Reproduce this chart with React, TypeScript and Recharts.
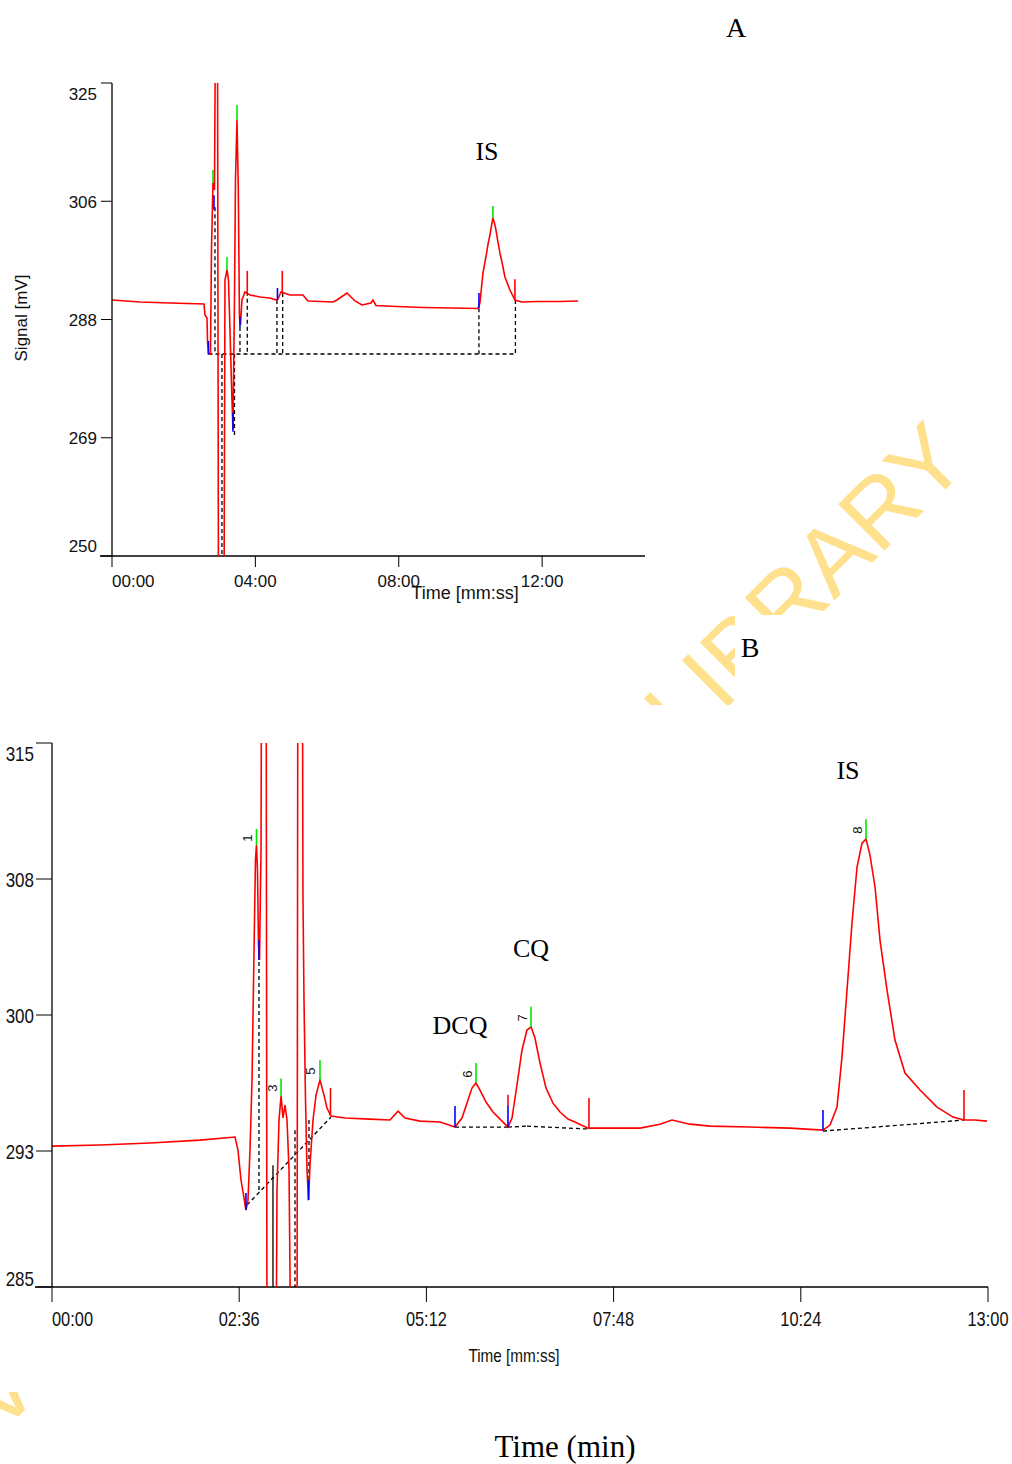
import React from 'react';
import { LineChart, Line, XAxis, YAxis, ReferenceLine, ReferenceDot } from 'recharts';

// ---------------- Panel A data ----------------
const timeA = [0, 0.781, 1.618, 2.566, 2.594, 2.65, 2.664, 2.692, 2.748, 2.775, 2.817, 2.859, 2.887, 2.943, 2.971, 3.124, 3.152, 3.208, 3.25, 3.291, 3.347, 3.375, 3.417, 3.445, 3.487, 3.523, 3.556, 3.584, 3.626, 3.71, 3.849, 4.128, 4.407, 4.589, 4.63, 4.714, 4.798, 4.965, 5.328, 5.467, 6.165, 6.276, 6.555, 6.778, 6.974, 7.225, 7.28, 7.364, 7.95, 8.675, 10.209, 10.265, 10.349, 10.452, 10.488, 10.544, 10.586, 10.628, 10.684, 10.711, 10.767, 10.823, 10.879, 10.962, 11.102, 11.241, 11.437, 11.855, 12.497, 13.0];
const signalA = [290.59, 290.28, 290.12, 289.96, 288.22, 287.74, 284.09, 282.03, 282.03, 298.52, 309.14, 308.03, 335, 335, 240, 240, 293.76, 295.35, 293.76, 285.84, 274.74, 269.98, 290.59, 309.62, 319.13, 308.51, 287.9, 286.63, 290.59, 291.86, 291.39, 291.07, 290.91, 290.59, 290.75, 291.86, 291.7, 291.39, 291.39, 290.44, 290.28, 290.59, 291.7, 290.44, 289.8, 290.12, 290.59, 289.72, 289.56, 289.4, 289.25, 290.12, 294.87, 298.05, 299.36, 300.9, 302.33, 303.6, 302.49, 301.7, 299.79, 298.05, 296.62, 294.24, 292.18, 290.59, 290.28, 290.36, 290.36, 290.44];
const ticksXA = [0, 4, 8, 12];
const ticksYA = [250, 268.75, 287.5, 306.25, 325];
// [time, from, to]
const apexA = [[2.817, 309.14, 311.2], [3.208, 295.35, 297.4], [3.487, 319.13, 321.5], [10.628, 303.6, 305.5]];
const startA = [[2.692, 282.0, 284.1], [2.845, 304.9, 307.2], [3.375, 269.7, 272.7], [3.57, 286.3, 287.9], [4.616, 290.6, 292.5], [10.237, 289.3, 291.7]];
const endA = [[3.774, 291.9, 295.2], [4.75, 291.7, 295.2], [11.241, 290.6, 293.9]];
// [t1, v1, t2, v2]
const baselineA = [
  [2.873, 305.3, 2.873, 282.03],
  [2.692, 282.03, 11.27, 282.03],
  [3.068, 282.03, 3.068, 250],
  [3.417, 282.03, 3.417, 269.0],
  [3.57, 286.3, 3.57, 282.03],
  [3.774, 291.9, 3.774, 282.03],
  [4.602, 290.6, 4.602, 282.03],
  [4.762, 291.7, 4.762, 282.03],
  [10.237, 289.3, 10.237, 282.03],
  [11.255, 290.6, 11.255, 282.03],
];

// ---------------- Panel B data ----------------
const timeB = [0, 0.667, 1.361, 2.056, 2.542, 2.583, 2.625, 2.667, 2.694, 2.722, 2.75, 2.778, 2.806, 2.826, 2.84, 2.854, 2.868, 2.882, 2.903, 2.917, 2.972, 2.986, 3.111, 3.125, 3.153, 3.181, 3.208, 3.236, 3.264, 3.292, 3.319, 3.403, 3.417, 3.472, 3.486, 3.5, 3.521, 3.542, 3.563, 3.583, 3.625, 3.667, 3.722, 3.778, 3.819, 3.875, 4.069, 4.417, 4.694, 4.806, 4.903, 5.111, 5.389, 5.597, 5.694, 5.778, 5.833, 5.889, 5.944, 6.028, 6.125, 6.222, 6.333, 6.389, 6.458, 6.528, 6.597, 6.653, 6.708, 6.778, 6.861, 6.958, 7.056, 7.167, 7.292, 7.444, 7.611, 8.167, 8.444, 8.611, 8.861, 9.139, 9.694, 10.25, 10.708, 10.806, 10.903, 10.972, 11.042, 11.111, 11.181, 11.25, 11.306, 11.361, 11.431, 11.5, 11.597, 11.708, 11.847, 12.056, 12.292, 12.514, 12.667, 12.819, 12.986];
const signalB = [292.77, 292.83, 292.94, 293.1, 293.27, 292.55, 290.9, 289.9, 289.24, 289.79, 292.55, 296.41, 303.58, 308.55, 309.37, 308.0, 303.86, 303.03, 309.1, 330, 330, 280, 280, 290.35, 294.21, 295.53, 294.32, 295.03, 294.21, 291.45, 280, 280, 330, 330, 306.34, 300.82, 295.31, 291.45, 289.79, 291.72, 294.21, 295.58, 296.41, 295.58, 294.87, 294.43, 294.32, 294.26, 294.21, 294.7, 294.32, 294.15, 294.1, 293.82, 294.32, 295.31, 295.97, 296.25, 295.86, 295.2, 294.65, 294.26, 293.82, 294.32, 296.14, 298.07, 299.17, 299.34, 298.73, 297.35, 295.97, 295.14, 294.65, 294.26, 294.04, 293.76, 293.76, 293.76, 293.98, 294.21, 293.98, 293.87, 293.82, 293.76, 293.65, 293.93, 294.92, 297.68, 301.38, 305.07, 308.16, 309.48, 309.7, 308.82, 307.06, 304.13, 301.38, 298.62, 296.8, 295.86, 294.92, 294.37, 294.21, 294.21, 294.15];
const ticksXB = [0, 2.6, 5.2, 7.8, 10.4, 13];
const ticksYB = [285, 292.5, 300, 307.5, 315];
const apexB = [[2.84, 309.37, 310.26], [3.181, 295.53, 296.5], [3.722, 296.41, 297.5], [5.889, 296.25, 297.35], [6.653, 299.34, 300.45], [11.306, 309.7, 310.8]];
const peakNumbersB = ['1', '3', '5', '6', '7', '8'];
const startB = [[2.694, 289.24, 290.18], [2.875, 303.03, 304.13], [3.563, 289.79, 290.9], [5.597, 293.82, 294.98], [6.333, 293.82, 294.98], [10.708, 293.65, 294.76]];
const endB = [[3.868, 294.43, 295.97], [6.333, 294.98, 295.6], [7.458, 293.76, 295.42], [12.667, 294.21, 295.86]];
const baselineB = [
  [2.708, 289.52, 3.875, 294.37],
  [2.875, 303.31, 2.875, 290.23],
  [3.375, 293.65, 3.375, 285],
  [3.569, 294.21, 3.569, 290.62],
  [5.597, 293.82, 6.333, 293.82],
  [6.333, 293.82, 6.597, 293.87],
  [6.597, 293.87, 7.458, 293.71],
  [10.708, 293.6, 11.958, 293.98],
  [11.958, 293.98, 12.667, 294.21],
];
const solidB = [[3.069, 291.72, 3.069, 285]];

const SANS = '"Liberation Sans", Arial, sans-serif';
const SERIF = '"Liberation Serif", "Times New Roman", serif';
const RED = '#ff0000';
const GREEN = '#00e600';
const BLUE = '#0000ff';

function fmtTime(m: number) {
  const s = Math.round(m * 60);
  const mm = Math.floor(s / 60);
  const ss = s % 60;
  return `${String(mm).padStart(2, '0')}:${String(ss).padStart(2, '0')}`;
}

const XTickA = (p: any) => {
  const v = p.payload.value;
  return (
    <text x={p.x} y={p.y + 20} textAnchor={v === 0 ? 'start' : 'middle'} fontFamily={SANS} fontSize={17} fill="#111">
      {fmtTime(v)}
    </text>
  );
};
const YTickA = (p: any) => {
  const v = p.payload.value;
  let dy = 6.5;
  if (v === 325) dy += 10;
  if (v === 250) dy -= 11;
  return (
    <text x={p.x} y={p.y + dy} textAnchor="end" fontFamily={SANS} fontSize={17} fill="#111">
      {Math.round(v)}
    </text>
  );
};
const XTickB = (p: any) => {
  const v = p.payload.value;
  return (
    <text transform={`translate(${p.x},${p.y + 24}) scale(0.82,1)`} textAnchor={v === 0 ? 'start' : 'middle'} fontFamily={SANS} fontSize={20} fill="#111">
      {fmtTime(v)}
    </text>
  );
};
const YTickB = (p: any) => {
  const v = p.payload.value;
  let dy = 7.5;
  if (v === 315) dy += 10;
  if (v === 285) dy -= 9;
  return (
    <text transform={`translate(${p.x},${p.y + dy}) scale(0.85,1)`} textAnchor="end" fontFamily={SANS} fontSize={20} fill="#111">
      {Math.round(v)}
    </text>
  );
};

function marks(list: number[][], color: string, prefix: string) {
  return list.map((m, i) => (
    <ReferenceLine key={prefix + i} segment={[{ x: m[0], y: m[1] }, { x: m[0], y: m[2] }]} stroke={color} strokeWidth={1.6} ifOverflow="visible" />
  ));
}
function segs(list: number[][], prefix: string, dashed: boolean) {
  return list.map((s, i) => (
    <ReferenceLine key={prefix + i} segment={[{ x: s[0], y: s[1] }, { x: s[2], y: s[3] }]} stroke="#000" strokeWidth={1.3} strokeDasharray={dashed ? '4 3' : undefined} ifOverflow="visible" />
  ));
}

export default function App() {
  const dataA = timeA.map((t, i) => ({ t, v: signalA[i] }));
  const dataB = timeB.map((t, i) => ({ t, v: signalB[i] }));
  return (
    <div style={{ position: 'absolute', left: 0, top: 0, width: 1012, height: 1464, background: '#fff', overflow: 'hidden' }}>
      <svg style={{ position: 'absolute', left: 0, top: 0 }} width={1012} height={1464}>
        <text x={971} y={464} transform="rotate(-45 971 464)" textAnchor="end" fontFamily={SANS} fontSize={95} fill="#ffe08c">
          UNIVERSITY OF IBADAN LIBRARY
        </text>
        <rect x={0} y={705} width={1012} height={687} fill="#fff" />
        <rect x={735} y={615} width={277} height={90} fill="#fff" />
      </svg>

      <div style={{ position: 'absolute', left: 0, top: 0 }}>
        <LineChart width={660} height={620} margin={{ top: 83, right: 15, bottom: 24, left: 52 }}>
          <XAxis type="number" dataKey="t" domain={[0, 14.87]} ticks={ticksXA} interval={0} allowDataOverflow height={40} tickSize={11} tickMargin={0} axisLine={false} tickLine={{ stroke: '#000' }} tick={XTickA} />
          <YAxis type="number" domain={[250, 325]} ticks={ticksYA} interval={0} allowDataOverflow width={60} tickSize={11} tickMargin={4} axisLine={{ stroke: '#000', strokeWidth: 1.3 }} tickLine={{ stroke: '#000' }} tick={YTickA} />
          <ReferenceLine segment={[{ x: -0.335, y: 250 }, { x: 14.87, y: 250 }]} stroke="#000" strokeWidth={1.3} ifOverflow="visible" />
          {segs(baselineA, 'ba', true)}
          <Line data={dataA} dataKey="v" type="linear" stroke={RED} strokeWidth={1.6} dot={false} isAnimationActive={false} />
          {marks(apexA, GREEN, 'ga')}
          {marks(startA, BLUE, 'sa')}
          {marks(endA, RED, 'ea')}
        </LineChart>
      </div>

      <div style={{ position: 'absolute', left: 0, top: 700 }}>
        <LineChart width={1012} height={700} margin={{ top: 43, right: 24, bottom: 53, left: 12 }}>
          <XAxis type="number" dataKey="t" domain={[0, 13]} ticks={ticksXB} interval={0} allowDataOverflow height={60} tickSize={15} tickMargin={0} axisLine={false} tickLine={{ stroke: '#000' }} tick={XTickB} />
          <YAxis type="number" domain={[285, 315]} ticks={ticksYB} interval={0} allowDataOverflow width={40} tickSize={16} tickMargin={2} axisLine={{ stroke: '#000', strokeWidth: 1.3 }} tickLine={{ stroke: '#000' }} tick={YTickB} />
          <ReferenceLine segment={[{ x: -0.236, y: 285 }, { x: 13, y: 285 }]} stroke="#000" strokeWidth={1.3} ifOverflow="visible" />
          {segs(baselineB, 'bb', true)}
          {segs(solidB, 'sb', false)}
          <Line data={dataB} dataKey="v" type="linear" stroke={RED} strokeWidth={1.6} dot={false} isAnimationActive={false} />
          {marks(apexB, GREEN, 'gb')}
          {marks(startB, BLUE, 'sb2')}
          {marks(endB, RED, 'eb')}
          {apexB.map((a, i) => (
            <ReferenceDot
              key={'lb' + i}
              x={a[0]}
              y={(a[1] + a[2]) / 2}
              r={0}
              ifOverflow="visible"
              shape={(p: any) => (
                <text transform={`translate(${p.cx - 9},${p.cy + 1}) rotate(-90)`} textAnchor="middle" dominantBaseline="central" fontFamily={SANS} fontSize={13} fill="#111">
                  {peakNumbersB[i]}
                </text>
              )}
            />
          ))}
        </LineChart>
      </div>

      <svg style={{ position: 'absolute', left: 0, top: 0, pointerEvents: 'none' }} width={1012} height={1464}>
        <text x={736} y={37} textAnchor="middle" fontFamily={SERIF} fontSize={28} fill="#000">A</text>
        <text x={487} y={160} textAnchor="middle" fontFamily={SERIF} fontSize={26} fill="#000">IS</text>
        <text x={750} y={657} textAnchor="middle" fontFamily={SERIF} fontSize={28} fill="#000">B</text>
        <text x={848} y={779} textAnchor="middle" fontFamily={SERIF} fontSize={26} fill="#000">IS</text>
        <text x={531} y={957} textAnchor="middle" fontFamily={SERIF} fontSize={26} fill="#000">CQ</text>
        <text x={460} y={1034} textAnchor="middle" fontFamily={SERIF} fontSize={26} fill="#000">DCQ</text>
        <text x={565} y={1457} textAnchor="middle" fontFamily={SERIF} fontSize={31} fill="#000">Time (min)</text>
        <text x={465} y={599} textAnchor="middle" fontFamily={SANS} fontSize={18} fill="#111">Time [mm:ss]</text>
        <text transform="translate(27,318) rotate(-90)" textAnchor="middle" fontFamily={SANS} fontSize={17} fill="#111">Signal [mV]</text>
        <text transform="translate(514,1362) scale(0.85,1)" textAnchor="middle" fontFamily={SANS} fontSize={18} fill="#111">Time [mm:ss]</text>
      </svg>
    </div>
  );
}
